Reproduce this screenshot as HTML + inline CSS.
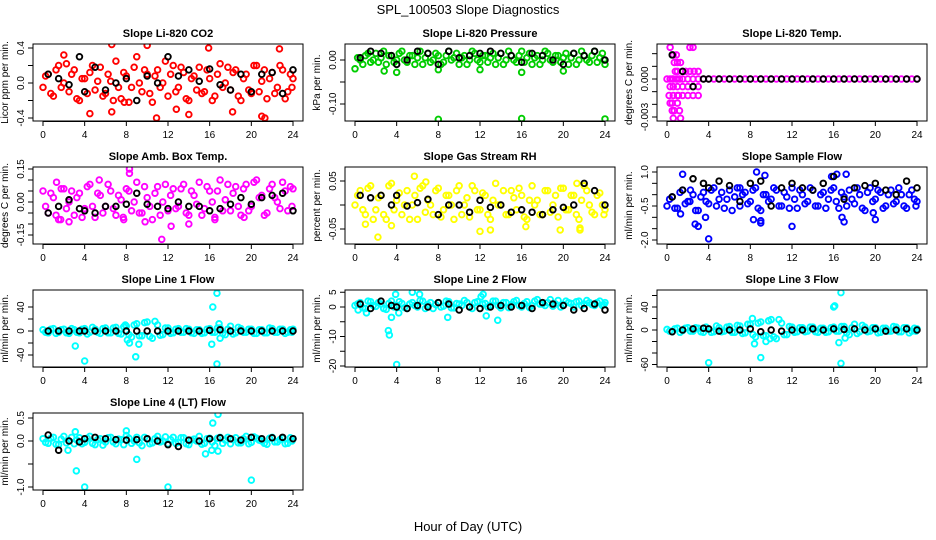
<!DOCTYPE html>
<html><head><meta charset="utf-8"><style>
html,body{margin:0;padding:0;background:#fff;}
svg{display:block;font-family:"Liberation Sans",sans-serif;}
</style></head><body>
<svg id="chart" width="936" height="540" viewBox="0 0 936 540" xmlns="http://www.w3.org/2000/svg">
<rect x="0" y="0" width="936" height="540" fill="#fff"/>
<text x="468" y="14" font-size="13" text-anchor="middle">SPL_100503  Slope Diagnostics</text>
<text x="468" y="531" font-size="13" text-anchor="middle">Hour of Day (UTC)</text>
</svg>
<script>
const hoursA=[0,0.5,1,1.5,2,2.5,3,3.5,4,4.5,5,5.5,6,6.5,7,7.5,8,8.5,9,9.5,10,10.5,11,11.5,12,12.5,13,13.5,14,14.5,15,15.5,16,16.5,17,17.5,18,18.5,19,19.5,20,20.5,21,21.5,22,22.5,23,23.5,24];
const hoursB=[0.25,0.75,1.25,1.75,2.25,2.75,3.25,3.75,4.25,4.75,5.25,5.75,6.25,6.75,7.25,7.75,8.25,8.75,9.25,9.75,10.25,10.75,11.25,11.75,12.25,12.75,13.25,13.75,14.25,14.75,15.25,15.75,16.25,16.75,17.25,17.75,18.25,18.75,19.25,19.75,20.25,20.75,21.25,21.75,22.25,22.75,23.25,23.75,23.9];
const hoursK=[0.5,1.5,2.5,3.5,4,5,6,7,8,9,10,11,12,13,14,15,16,17,18,19,20,21,22,23,24];
const xTicks=[0,4,8,12,16,20,24];

// Panel 1 CO2
const co2A=[-0.05,0.1,-0.15,0.2,0.0,-0.1,0.15,-0.2,0.05,0.12,-0.08,0.18,-0.12,0.02,0.25,-0.18,0.08,-0.05,0.3,-0.1,0.1,-0.22,0.15,0.0,-0.15,0.2,-0.05,0.12,-0.2,0.08,0.18,-0.1,0.05,-0.15,0.22,0.0,-0.08,0.15,-0.2,0.1,-0.12,0.2,0.02,-0.18,0.12,-0.05,0.15,-0.1,0.05];
const co2B=[0.08,-0.12,0.15,-0.05,0.22,0.1,-0.18,0.05,-0.12,0.2,0.02,-0.15,0.1,-0.2,-0.05,0.12,-0.22,0.18,0.0,0.15,-0.12,0.08,-0.05,0.25,0.1,-0.1,0.18,-0.18,0.05,-0.08,-0.12,0.15,-0.2,0.1,-0.05,0.18,0.12,-0.15,0.05,-0.08,0.2,-0.1,0.15,0.05,-0.12,0.2,-0.18,0.1,-0.05];
const co2OutH=[6.6,10,2,15.9,22.7,10.9,14,21,18.2,7.8,6.6,21.3,12.8,4.5];
const co2OutV=[0.44,0.43,0.32,0.4,0.39,-0.4,-0.36,-0.38,-0.33,-0.22,-0.33,-0.4,-0.3,-0.35];
const co2K=[0.1,0.05,-0.02,0.3,-0.1,0.18,-0.08,0.0,0.05,-0.2,0.08,0.0,0.3,0.08,0.15,0.02,0.16,-0.02,-0.08,0.1,-0.1,0.1,0.12,-0.12,0.15];
const co2Ticks=[-0.4,-0.2,0,0.2,0.4], co2Labels=["-0.4","","0.0","","0.4"];

// Panel 2 Pressure
const prA=[-0.02,0.0,0.01,-0.005,0.015,0.005,-0.01,0.01,0.0,0.02,-0.005,0.01,0.005,-0.01,0.015,0.0,0.01,-0.005,0.02,0.005,-0.01,0.01,0.0,0.015,-0.005,0.01,0.005,-0.01,0.015,0.0,0.01,-0.005,0.02,0.005,-0.01,0.01,0.0,0.015,-0.005,0.01,0.005,-0.01,0.015,0.0,0.01,-0.005,0.02,0.005,-0.01];
const prB=[0.005,-0.01,0.015,0.0,-0.005,0.02,0.01,-0.005,0.015,0.0,0.01,-0.01,0.02,0.005,-0.005,0.015,-0.01,0.01,0.0,0.015,0.005,-0.01,0.02,0.0,0.01,-0.005,0.015,0.005,-0.01,0.02,0.0,0.01,-0.005,0.015,0.005,-0.01,0.02,0.0,0.01,-0.005,0.015,0.005,-0.01,0.02,0.0,0.01,-0.005,0.015,0.0];
const prOutH=[8,16,24,2.8,4,8,12,16,20];
const prOutV=[-0.135,-0.133,-0.134,-0.025,-0.028,-0.022,-0.022,-0.028,-0.025];
const prK=[0.005,0.02,0.015,0.01,-0.01,0.0,0.02,0.015,-0.01,0.02,0.005,0.01,0.015,0.02,0.015,0.01,-0.005,0.015,0.01,0.0,-0.01,0.015,0.01,0.02,0.0];
const prTicks=[-0.1,-0.05,0], prLabels=["-0.10","","0.00"];

// Panel 3 Li-820 Temp
const tpA=[0,0,0,0,0,0,0,0,0,0,0,0,0,0,0,0,0,0,0,0,0,0,0,0,0,0,0,0,0,0,0,0,0,0,0,0,0,0,0,0,0,0,0,0,0,0,0,0,0];
const tpOutH=[0.3,2.2,2.5,0.6,0.9,0.7,1.0,1.3,0.8,1.0,1.5,1.8,2.2,2.6,3.0,0.3,0.6,0.9,1.2,0.3,0.6,1.0,1.5,2.0,2.5,3.0,0.2,0.6,1.0,1.5,2.0,2.5,3.0,0.3,0.5,1.0,0.5,1.2,0.6,1.1,0.7,1.3];
const tpOutV=[0.0025,0.0025,0.0025,0.0019,0.0019,0.0013,0.0013,0.0013,0.0006,0.0006,0.0006,0.0006,0.0006,0.0006,0.0006,0,0,0,0,-0.0006,-0.0006,-0.0006,-0.0006,-0.0006,-0.0006,-0.0006,-0.0013,-0.0013,-0.0013,-0.0013,-0.0013,-0.0013,-0.0013,-0.0019,-0.0019,-0.0019,-0.0025,-0.0025,-0.0031,-0.0013,-0.0025,-0.0031];
const tpK=[0.0019,0.0006,-0.0006,0,0,0,0,0,0,0,0,0,0,0,0,0,0,0,0,0,0,0,0,0,0];
const tpTicks=[-0.003,-0.002,-0.001,0,0.001,0.002], tpLabels=["-0.003","","","0.000","",""];

// Panel 4 Amb Box Temp
const abA=[0.05,-0.05,0.02,-0.08,0.06,0.0,-0.06,0.04,-0.03,0.08,-0.07,0.03,-0.02,0.05,-0.06,0.01,0.06,-0.04,0.09,-0.05,0.02,-0.08,0.07,0.0,-0.04,0.06,-0.02,0.08,-0.06,0.03,0.09,-0.03,0.05,-0.07,0.1,0.01,-0.04,0.07,-0.06,0.08,-0.02,0.1,0.03,-0.05,0.08,0.0,0.09,-0.04,0.06];
const abB=[-0.02,0.04,-0.06,0.06,-0.03,0.05,0.02,-0.07,0.07,-0.02,0.04,-0.05,0.08,-0.03,0.03,-0.08,0.05,0.0,-0.05,0.07,-0.02,0.04,-0.06,0.08,0.03,-0.03,0.06,-0.05,0.05,-0.01,-0.06,0.07,0.0,0.05,-0.04,0.08,0.04,-0.02,0.06,-0.04,0.09,0.02,-0.06,0.06,0.02,-0.03,0.05,0.07,-0.02];
const abOutH=[8.3,8.3,5.4,11.4,12.3,14,9.8,16.5,2.5,1.7,7.7,19.3,1.3];
const abOutV=[0.15,0.13,0.1,-0.17,-0.11,-0.1,-0.09,-0.08,-0.09,-0.08,-0.07,-0.07,0.09];
const abK=[-0.05,-0.02,0.01,-0.03,-0.04,-0.05,-0.02,-0.02,-0.01,0.04,-0.01,-0.02,-0.03,0.0,-0.02,-0.02,-0.04,-0.03,-0.01,0.02,-0.01,0.02,0.03,0.04,-0.04];
const abTicks=[-0.15,-0.1,-0.05,0,0.05,0.1,0.15], abLabels=["-0.15","","","0.00","","","0.15"];

// Panel 5 RH
const rhA=[0.0,0.03,-0.02,0.04,-0.01,0.02,-0.03,0.045,0.01,-0.02,0.03,0.0,-0.03,0.04,0.01,-0.02,0.035,-0.01,0.02,-0.03,0.04,0.0,-0.025,0.03,-0.01,0.02,-0.03,0.045,0.0,-0.02,0.03,-0.01,0.02,-0.03,0.04,0.01,-0.02,0.03,0.0,-0.025,0.035,-0.01,0.02,-0.03,0.04,0.0,-0.02,0.025,-0.01];
const rhB=[0.02,-0.01,0.035,-0.03,0.015,-0.02,0.04,-0.01,0.025,0.0,-0.03,0.02,0.035,-0.015,0.0,0.03,-0.025,0.02,0.0,0.03,-0.02,0.015,0.04,-0.01,0.025,-0.02,0.01,0.0,0.03,-0.02,0.015,0.035,-0.025,0.01,0.0,-0.02,0.03,-0.015,0.02,0.035,-0.01,0.02,-0.02,0.01,0.03,-0.015,0.02,0.0,-0.02];
const rhOutH=[5.7,6.8,2.2,12,13,21.6,21.6,19.7,16.4,3.5,1,21.3];
const rhOutV=[0.06,0.048,-0.067,-0.055,-0.052,-0.048,-0.052,-0.052,-0.045,-0.043,-0.04,0.045];
const rhK=[0.02,0.015,0.02,0.0,0.02,-0.002,0.005,0.012,-0.02,0.0,0.0,-0.015,0.01,-0.005,0.0,-0.015,-0.01,-0.015,-0.02,-0.01,-0.005,0.0,0.045,0.03,0.0];
const rhTicks=[-0.05,0,0.05], rhLabels=["-0.05","","0.05"];

// Panel 6 Sample Flow
const sfA=[-0.5,-0.1,-0.6,0.2,-0.3,0.0,-0.7,0.1,-0.4,0.3,-0.2,-0.6,0.2,-0.1,-0.5,0.1,-0.3,0.3,-0.7,0.0,-0.2,0.2,-0.5,-0.1,0.3,-0.6,0.0,-0.3,0.2,-0.5,0.1,-0.2,0.3,-0.6,-0.1,0.2,-0.4,0.0,-0.7,0.3,-0.2,0.1,-0.5,0.2,-0.3,0.0,-0.6,0.2,-0.3];
const sfB=[-0.2,-0.6,0.1,-0.4,0.2,-0.7,-0.1,-0.3,0.2,-0.5,0.1,-0.2,-0.7,0.3,0.0,-0.4,0.2,-0.6,0.0,-0.3,0.3,-0.5,0.1,-0.6,-0.2,0.2,-0.4,0.3,-0.5,0.0,-0.6,0.2,-0.3,0.1,-0.5,-0.2,0.3,-0.6,0.1,-0.3,0.2,-0.6,0.0,-0.4,0.3,-0.5,0.0,-0.2,-0.5];
const sfOutH=[4,2.7,3,3.7,1.3,8.3,9,9,12,16.8,17,20,19.8,2.2,7,16.3,15.8,17.2,8.6,1.5,9.4];
const sfOutV=[-1.95,-1.3,-1.4,-1.0,-0.85,-1.1,-1.25,-1.15,-1.4,-1.0,-1.2,-1.1,-0.8,-0.3,0.3,0.9,0.8,0.9,1.0,0.9,0.85];
const sfK=[-0.1,0.2,0.7,0.5,0.3,0.6,0.4,-0.3,0.5,0.6,-0.5,0.3,0.5,0.3,0.2,0.5,0.8,-0.2,0.3,0.4,0.5,0.2,0.0,0.6,0.3];
const sfTicks=[-2,-1.5,-1,-0.5,0,0.5,1], sfLabels=["-2.0","","","-0.5","","","1.0"];

// Panel 7 Line 1
const l1A=[2,-3,4,-2,3,-4,2,-3,4,-2,3,-4,5,-3,6,-5,8,-10,12,-8,15,-12,10,-6,5,-3,4,-2,3,-4,2,-3,4,-2,5,-6,8,-3,4,-2,3,-4,2,-3,4,-2,3,-2,3];
const l1B=[-2,3,-4,2,-3,4,-2,3,-5,6,-2,4,-3,5,-4,7,-6,10,-8,14,-9,16,-7,5,-4,3,-2,4,-3,2,-4,3,-2,5,-4,3,-5,6,-2,3,-4,2,-3,5,-2,3,-4,2,-2];
const l1OutH=[16.7,16.3,4,8.9,16.2,3.1,16.7,8.1,8.3,9.2,17,7.9,16.9];
const l1OutV=[63,40,-50,-43,-22,-25,-55,-15,-20,-22,-12,10,12];
const l1K=[0,0,0,0,0,0,0,0,0,0,0,0,0,0,0,0,1,2,0,0,0,0,0,0,0];
const l1Ticks=[-40,-20,0,20,40], l1Labels=["-40","","0","","40"];

// Panel 8 Line 2
const l2A=[0.5,1.5,-0.5,1.8,0.2,1.0,-0.8,2.0,0.5,1.2,-0.5,1.5,0.0,2.0,0.8,-0.5,1.5,0.3,1.8,-0.3,1.0,2.2,0.0,1.5,-0.5,1.2,0.5,2.0,-0.3,1.5,0.8,2.2,0.0,1.8,0.5,2.5,1.0,1.5,0.3,2.2,0.8,1.5,0.0,2.0,1.0,1.5,0.5,2.0,1.5];
const l2B=[1.0,-0.3,2.0,0.5,1.5,-0.5,1.2,0.0,1.8,-0.2,1.0,0.5,2.2,-0.5,1.5,0.8,0.0,2.0,-0.3,1.2,0.5,1.5,-0.5,1.8,1.0,0.0,2.0,0.5,1.5,-0.2,1.8,0.5,1.2,-0.2,2.0,1.0,0.5,2.5,1.0,0.0,2.0,1.2,1.8,0.5,2.2,0.8,1.5,0.5,0.8];
const l2OutH=[4,3.2,3.3,3.5,8.9,12.6,13.7,3.9,5.5,6.2,12.3,12.1,4.2,0.3,1.1];
const l2OutV=[-19.5,-8,-9.5,-3.5,-3.5,-3,-4.5,4.3,5,4.3,4.3,3.5,-2,-1,-2];
const l2K=[1.0,-0.5,2.0,0.5,0.0,-0.5,0.5,0.0,1.5,1.0,-1.0,0.0,-0.5,0.0,0.5,0.0,0.5,-0.5,1.5,1.0,0.5,-1.0,-0.5,1.0,-1.0];
const l2Ticks=[-20,-15,-10,-5,0,5], l2Labels=["-20","","-10","","0","5"];

// Panel 9 Line 3
const l3A=[1,-3,3,-1,4,-2,3,-4,2,-3,4,-2,6,-4,7,-5,10,-12,14,-10,18,-15,12,-8,5,-3,4,-2,5,-4,3,-3,5,-2,6,-8,10,-3,5,-2,4,-4,3,-2,5,-3,4,-2,2];
const l3B=[-2,2,-4,3,-2,4,-3,5,-4,7,-3,5,-4,8,-6,10,-8,12,-10,16,-12,18,-8,6,-4,4,-3,5,-3,3,-4,4,-2,6,-5,4,-6,8,-3,4,-5,3,-2,6,-3,4,-5,3,-2];
const l3OutH=[16.7,16.1,16,4,9,16.7,16.5,8.4,9.5,9.9,17.1,8.2];
const l3OutV=[65,42,40,-57,-48,-58,-22,-24,-20,-15,-14,20];
const l3K=[-3,0,2,3,2,-2,0,0,2,-3,0,-2,0,0,2,0,2,1,2,0,2,-2,0,2,0];
const l3Ticks=[-60,-40,-20,0,20,40,60], l3Labels=["-60","","","0","","40",""];

// Panel 10 Line 4 (LT)
const l4A=[0.05,-0.05,0.08,-0.08,0.1,0.0,-0.06,0.07,-0.03,0.1,-0.08,0.05,-0.02,0.08,-0.06,0.03,0.12,-0.05,0.08,-0.1,0.05,-0.04,0.1,0.0,-0.06,0.08,-0.03,0.07,-0.08,0.04,0.1,-0.05,0.06,-0.1,0.08,0.02,-0.06,0.07,-0.04,0.1,-0.03,0.06,0.0,-0.07,0.08,-0.02,0.06,-0.05,0.05];
const l4B=[-0.03,0.06,-0.07,0.04,-0.04,0.08,0.02,-0.06,0.06,-0.05,0.03,-0.09,0.07,-0.02,0.04,-0.08,0.06,0.0,-0.04,0.08,-0.06,0.05,-0.02,0.09,0.03,-0.05,0.07,-0.06,0.02,0.0,-0.07,0.05,-0.02,0.06,-0.05,0.08,0.03,-0.04,0.05,-0.06,0.09,0.02,-0.05,0.06,-0.02,0.03,-0.06,0.07,0.0];
const l4OutH=[4,12,20,3.2,16.8,16.3,9,3.1,2.4,8,15.6,16.2,16.8];
const l4OutV=[-1.0,-1.0,-0.85,-0.65,0.58,0.39,-0.4,0.2,-0.2,0.22,-0.28,-0.2,-0.22];
const l4K=[0.13,-0.2,0.0,-0.02,0.05,0.08,0.05,0.03,0.02,0.03,0.05,0.0,-0.08,-0.12,0.02,0.0,0.05,0.07,0.05,0.02,0.08,0.05,0.07,0.08,0.05];
const l4Ticks=[-1,-0.5,0,0.5], l4Labels=["-1.0","","0.0","0.5"];

const NS="http://www.w3.org/2000/svg";
const svg=document.getElementById('chart');
function el(tag,attrs,parent){const e=document.createElementNS(NS,tag);for(const k in attrs)e.setAttribute(k,attrs[k]);(parent||svg).appendChild(e);return e;}

const panels=[
 {id:'co2',title:'Slope Li-820 CO2',ylab:'Licor ppm per min.',col:0,row:0,color:'#ff0000',a:co2A,b:co2B,oh:co2OutH,ov:co2OutV,k:co2K,t:co2Ticks,tl:co2Labels,m:[0,83,0.4,48]},
 {id:'pressure',title:'Slope Li-820 Pressure',ylab:'kPa per min.',col:1,row:0,color:'#00cd00',a:prA,b:prB,oh:prOutH,ov:prOutV,k:prK,t:prTicks,tl:prLabels,m:[0,60,-0.1,104]},
 {id:'li820-temp',title:'Slope Li-820 Temp.',ylab:'degrees C per min.',col:2,row:0,color:'#ff00ff',a:tpA,b:null,oh:tpOutH,ov:tpOutV,k:tpK,t:tpTicks,tl:tpLabels,m:[0,79,-0.003,117]},
 {id:'amb-box-temp',title:'Slope Amb. Box Temp.',ylab:'degrees C per min.',col:0,row:1,color:'#ff00ff',a:abA,b:abB,oh:abOutH,ov:abOutV,k:abK,t:abTicks,tl:abLabels,m:[0,202,0.15,169]},
 {id:'gas-rh',title:'Slope Gas Stream RH',ylab:'percent per min.',col:1,row:1,color:'#ffff00',a:rhA,b:rhB,oh:rhOutH,ov:rhOutV,k:rhK,t:rhTicks,tl:rhLabels,m:[0.05,181,-0.05,229]},
 {id:'sample-flow',title:'Slope Sample Flow',ylab:'ml/min per min.',col:2,row:1,color:'#0000ff',a:sfA,b:sfB,oh:sfOutH,ov:sfOutV,k:sfK,t:sfTicks,tl:sfLabels,m:[1,172,-2,240]},
 {id:'line1-flow',title:'Slope Line 1 Flow',ylab:'ml/min per min.',col:0,row:2,color:'#00ffff',a:l1A,b:l1B,oh:l1OutH,ov:l1OutV,k:l1K,t:l1Ticks,tl:l1Labels,m:[0,331,40,307]},
 {id:'line2-flow',title:'Slope Line 2 Flow',ylab:'ml/min per min.',col:1,row:2,color:'#00ffff',a:l2A,b:l2B,oh:l2OutH,ov:l2OutV,k:l2K,t:l2Ticks,tl:l2Labels,m:[0,307,-20,366]},
 {id:'line3-flow',title:'Slope Line 3 Flow',ylab:'ml/min per min.',col:2,row:2,color:'#00ffff',a:l3A,b:l3B,oh:l3OutH,ov:l3OutV,k:l3K,t:l3Ticks,tl:l3Labels,m:[0,330,40,307]},
 {id:'line4-flow',title:'Slope Line 4 (LT) Flow',ylab:'ml/min per min.',col:0,row:3,color:'#00ffff',a:l4A,b:l4B,oh:l4OutH,ov:l4OutV,k:l4K,t:l4Ticks,tl:l4Labels,m:[0,441,0.5,418]}
];

panels.forEach(p=>{
  const x0=43+p.col*312, boxL=x0-10, boxW=270, top=44+p.row*123, boxH=77;
  const xs=h=>x0+h*250/24;
  const ys=v=>p.m[1]+(v-p.m[0])*(p.m[3]-p.m[1])/(p.m[2]-p.m[0]);
  const g=el('g',{});
  
  
  const t=el('text',{x:boxL+boxW/2,y:top-7,'font-size':11,'font-weight':'bold','text-anchor':'middle'},g);
  t.textContent=p.title;
  
  
  const clip=el('clipPath',{id:'c'+p.id},g);
  el('rect',{x:boxL,y:top,width:boxW,height:boxH},clip);
  const pts=el('g',{'clip-path':'url(#c'+p.id+')',fill:'none','stroke-width':1.9},g);
  
  
  function dot(h,v,c){const d=el('circle',{cx:xs(h),cy:ys(v),r:2.8,stroke:c},pts);
    
    }
  p.a.forEach((v,i)=>dot(hoursA[i],v,p.color));
  if(p.b)p.b.forEach((v,i)=>dot(hoursB[i],v,p.color));
  p.oh.forEach((h,i)=>dot(h,p.ov[i],p.color));
  p.k.forEach((v,i)=>dot(hoursK[i],v,'#000'));
  const box=el('rect',{x:boxL,y:top,width:boxW,height:boxH,fill:'none',stroke:'#000','stroke-width':1},g);
  
  
  xTicks.forEach(h=>{
    el('line',{x1:xs(h),x2:xs(h),y1:top+boxH,y2:top+boxH+5,stroke:'#000'},g);
    const tx=el('text',{x:xs(h),y:top+boxH+17,'font-size':10,'text-anchor':'middle'},g);
    tx.textContent=h;
    
    
  });
  el('line',{x1:xs(0),x2:xs(24),y1:top+boxH+0.5,y2:top+boxH+0.5,stroke:'#000'},g);
  p.t.forEach((v,i)=>{
    const y=ys(v);
    el('line',{x1:boxL-5,x2:boxL,y1:y,y2:y,stroke:'#000'},g);
    if(p.tl[i]){
      const ty=el('text',{x:boxL-9,y:y,'font-size':10,'text-anchor':'middle',transform:'rotate(-90 '+(boxL-9)+' '+y+')'},g);
      ty.textContent=p.tl[i];
      
      
    }
  });
  const yl=el('text',{x:boxL-25,y:top+boxH/2,'font-size':10,'text-anchor':'middle',transform:'rotate(-90 '+(boxL-25)+' '+(top+boxH/2)+')'},g);
  yl.textContent=p.ylab;
  
  
});
</script>
</body></html>
